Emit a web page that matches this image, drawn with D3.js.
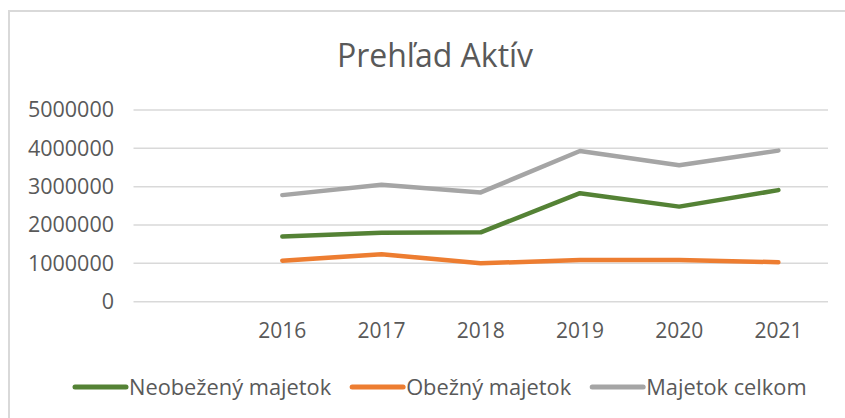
<!DOCTYPE html>
<html>
<head>
<meta charset="utf-8">
<script src="https://cdn.jsdelivr.net/npm/d3@7"></script>
<style>
  body { margin: 0; background: #fff; }
  svg { display: block; font-family: "Open Sans", sans-serif; }
</style>
</head>
<body>
<div id="chart"></div>
<script>
// chart size
const width = 845,
    height = 418;

// data (first category is empty in the source sheet)
const categories = ["", "2016", "2017", "2018", "2019", "2020", "2021"]
const neobezny = [null, 1700000, 1800000, 1810000, 2830000, 2480000, 2910000]
const obezny = [null, 1070000, 1240000, 1000000, 1090000, 1090000, 1030000]
const celkom = [null, 2780000, 3050000, 2850000, 3930000, 3560000, 3940000]
const yTicks = [0, 1000000, 2000000, 3000000, 4000000, 5000000]

const series = [
    { name: "Neobežený majetok", values: neobezny, color: "#548235" },
    { name: "Obežný majetok", values: obezny, color: "#ED7D31" },
    { name: "Majetok celkom", values: celkom, color: "#A5A5A5" }
]

const textColor = "#595959"
const gridColor = "#d9d9d9"

const svg = d3.select("#chart")
    .append("svg")
    .attr("width", width)
    .attr("height", height)

// chart area border (Excel-like frame)
svg.append("rect")
    .attr("x", 9)
    .attr("y", 11)
    .attr("width", width + 10)
    .attr("height", height + 10)
    .attr("fill", "none")
    .attr("stroke", gridColor)
    .attr("stroke-width", 2)

// title
svg.append("text")
    .attr("x", 435)
    .attr("y", 67)
    .attr("text-anchor", "middle")
    .attr("fill", textColor)
    .style("font-size", "32px")
    .text("Prehľad Aktív")

// scales
const x = d3.scaleBand()
    .domain(categories)
    .range([133.5, 828])
    .padding(0)

const y = d3.scaleLinear()
    .domain([0, 5000000])
    .range([301.7, 110])

// gridlines
svg.append("g")
    .selectAll("line")
    .data(yTicks)
    .join("line")
    .attr("x1", x.range()[0])
    .attr("x2", x.range()[1])
    .attr("y1", d => y(d))
    .attr("y2", d => y(d))
    .attr("stroke", gridColor)
    .attr("stroke-width", 1.5)

// y axis labels
const yAxis = svg.append("g")
    .attr("transform", "translate(122,0)")
    .call(d3.axisLeft(y).tickValues(yTicks).tickSize(0).tickPadding(8).tickFormat(d3.format("d")))
yAxis.select(".domain").remove()
yAxis.selectAll("text")
    .attr("fill", textColor)
    .style("font-size", "21.5px")
    .style("font-family", "Open Sans, sans-serif")

// x axis labels
const xAxis = svg.append("g")
    .attr("transform", `translate(0,${y(0)})`)
    .call(d3.axisBottom(x).tickSize(0).tickPadding(21))
xAxis.select(".domain").remove()
xAxis.selectAll("text")
    .attr("fill", textColor)
    .style("font-size", "21px")
    .style("font-family", "Open Sans, sans-serif")

// lines
const line = d3.line()
    .defined(d => d.v != null)
    .x(d => x(d.c) + x.bandwidth() / 2)
    .y(d => y(d.v))

svg.append("g")
    .selectAll("path")
    .data(series)
    .join("path")
    .attr("d", s => line(categories.map((c, i) => ({ c: c, v: s.values[i] }))))
    .attr("fill", "none")
    .attr("stroke", s => s.color)
    .attr("stroke-width", 4.5)
    .attr("stroke-linejoin", "round")
    .attr("stroke-linecap", "round")

// legend
const legend = svg.append("g")
    .attr("transform", "translate(0,387)")
let cursor = 73
series.forEach(s => {
    const item = legend.append("g")
    item.append("line")
        .attr("x1", cursor + 2)
        .attr("x2", cursor + 53)
        .attr("stroke", s.color)
        .attr("stroke-width", 5)
        .attr("stroke-linecap", "round")
    const t = item.append("text")
        .attr("x", cursor + 56)
        .attr("y", 7.7)
        .attr("fill", textColor)
        .style("font-size", "21.8px")
        .text(s.name)
    cursor += 56 + t.node().getComputedTextLength() + 19
})
</script>
</body>
</html>
